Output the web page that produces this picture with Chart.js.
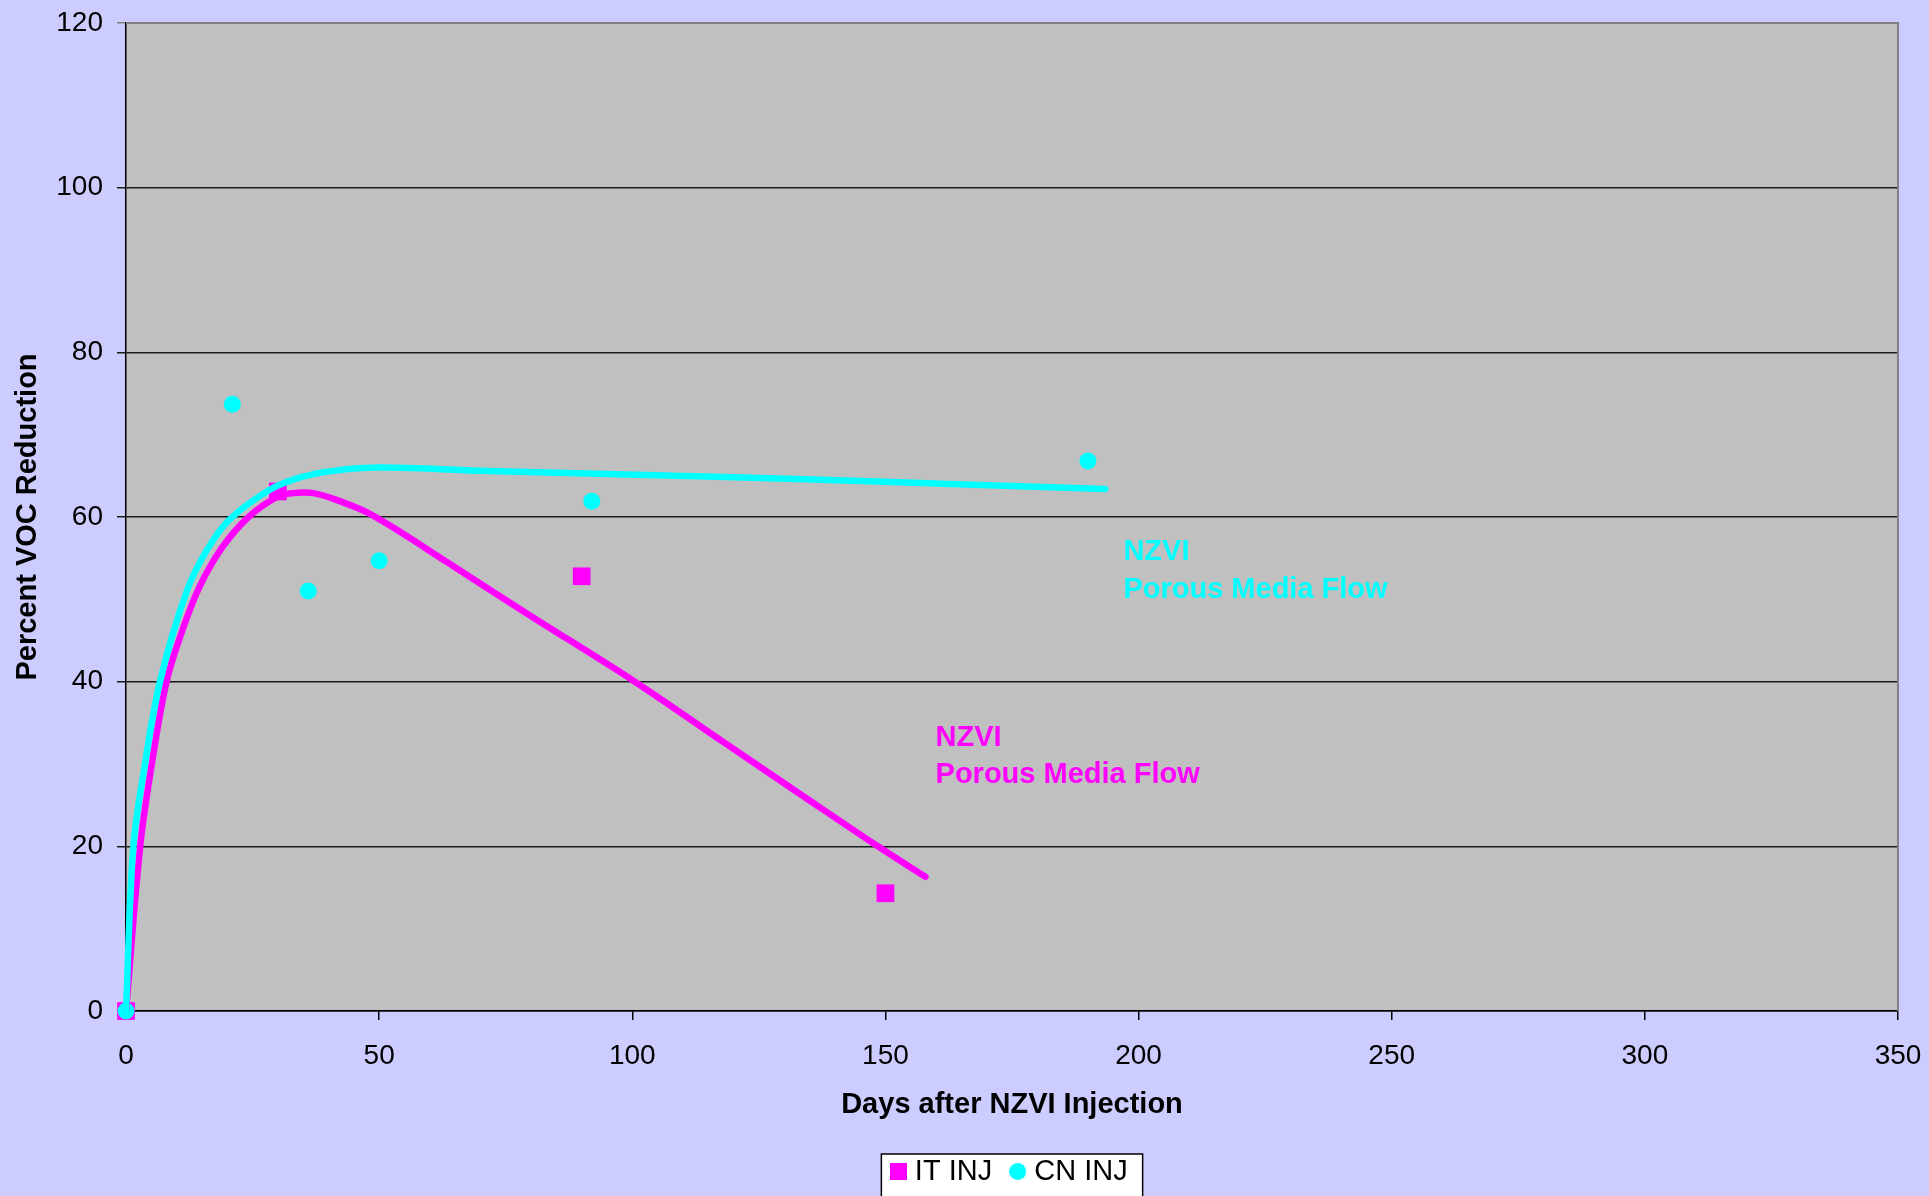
<!DOCTYPE html>
<html>
<head>
<meta charset="utf-8">
<script src="https://cdn.jsdelivr.net/npm/chart.js@4.4.0/dist/chart.umd.min.js"></script>
<style>
  html, body { margin: 0; padding: 0; background: #CCCCFF; }
  #wrap { width: 1929px; height: 1196px; }
</style>
</head>
<body>
<div id="wrap"><canvas id="vocChart" width="1929" height="1196"></canvas></div>
<script>
// measured points
const itDays = [0, 30, 90, 150];
const itReduction = [0, 63.1, 52.8, 14.3];
const cnDays = [0, 21, 36, 50, 92, 190];
const cnReduction = [0, 73.7, 51, 54.7, 61.9, 66.8];

// trend curves
const itFitDays = [0, 2.8, 5.1, 8, 11, 14.5, 19, 24.2, 30, 33, 37, 41, 47.5, 54.1, 63.7, 79.4, 100.5, 118.4, 134, 148.5, 157.9];
const itFitValues = [0, 20, 30, 40, 46, 51.5, 56.3, 60, 62.5, 62.9, 62.9, 62.2, 60.6, 58.2, 54.4, 48.2, 40, 32.5, 26, 20, 16.3];
const cnFitDays = [0, 1.45, 3.75, 6.7, 12, 16, 20.3, 28.4, 34.4, 40.9, 50, 71.5, 102.8, 134, 162.8, 193.4];
const cnFitValues = [0, 20, 30, 40, 51, 56, 59.6, 63.3, 64.8, 65.6, 66, 65.6, 65.1, 64.6, 64, 63.4];

const xTicks = [0, 50, 100, 150, 200, 250, 300, 350];
const yTicks = [0, 20, 40, 60, 80, 100, 120];

const seriesNames = ['IT INJ', 'CN INJ'];
const noteLines = ['NZVI', 'Porous Media Flow'];

const MAGENTA = '#FF00FF';
const CYAN = '#00FFFF';
const FONT = '"Liberation Sans", Arial, sans-serif';

function pts(xs, ys) {
    return xs.map((x, i) => ({ x: x, y: ys[i] }));
}

// small legend markers, both 17px like the original
function icon(kind, color) {
    const c = document.createElement('canvas');
    c.width = 17;
    c.height = 17;
    const g = c.getContext('2d');
    g.fillStyle = color;
    if (kind === 'rect') {
        g.fillRect(0, 0, 17, 17);
    } else {
        g.beginPath();
        g.arc(8.5, 8.5, 8.5, 0, Math.PI * 2);
        g.fill();
    }
    return c;
}
const legendIcons = [icon('rect', MAGENTA), icon('circle', CYAN)];

// grey plot area, border and white legend box
const backdrop = {
    id: 'backdrop',
    beforeDraw(chart) {
        const { ctx, chartArea: a } = chart;
        ctx.save();
        ctx.fillStyle = '#C0C0C0';
        ctx.fillRect(a.left, a.top, a.right - a.left, a.bottom - a.top);
        const boxes = chart.legend.legendHitBoxes;
        if (boxes && boxes.length) {
            const l = Math.min(...boxes.map(b => b.left)) - 15;
            const r = Math.max(...boxes.map(b => b.left + b.width)) + 15;
            const t = boxes[0].top - 3;
            const h = boxes[0].height + 14;
            ctx.fillStyle = '#FFFFFF';
            ctx.fillRect(l, t, r - l, h);
            ctx.strokeStyle = '#000000';
            ctx.lineWidth = 1.5;
            ctx.strokeRect(l, t, r - l, h);
        }
        ctx.restore();
    },
    beforeDatasetsDraw(chart) {
        const { ctx, chartArea: a } = chart;
        ctx.save();
        ctx.strokeStyle = '#808080';
        ctx.lineWidth = 2;
        ctx.beginPath();
        ctx.moveTo(a.left, a.top);
        ctx.lineTo(a.right, a.top);
        ctx.lineTo(a.right, a.bottom);
        ctx.stroke();
        ctx.restore();
    }
};

// the two "NZVI / Porous Media Flow" notes
const notes = {
    id: 'notes',
    afterDatasetsDraw(chart) {
        const { ctx, scales: { x, y } } = chart;
        const place = [
            { color: CYAN, day: 197, at: [54.8, 50.2] },
            { color: MAGENTA, day: 159.9, at: [32.2, 27.7] }
        ];
        ctx.save();
        ctx.font = 'bold 29px ' + FONT;
        ctx.textBaseline = 'alphabetic';
        ctx.textAlign = 'left';
        place.forEach(p => {
            ctx.fillStyle = p.color;
            noteLines.forEach((txt, i) => {
                ctx.fillText(txt, x.getPixelForValue(p.day), y.getPixelForValue(p.at[i]));
            });
        });
        ctx.restore();
    }
};

const ctx = document.getElementById('vocChart').getContext('2d');
const vocChart = new Chart(ctx, {
    type: 'scatter',
    data: {
        datasets: [
            {
                label: seriesNames[0],
                data: pts(itDays, itReduction),
                pointStyle: 'rect',
                pointRadius: 12.5,
                pointHoverRadius: 12.5,
                backgroundColor: MAGENTA,
                borderColor: MAGENTA,
                borderWidth: 0,
                clip: false,
                order: 3
            },
            {
                label: seriesNames[1],
                data: pts(cnDays, cnReduction),
                pointStyle: 'circle',
                pointRadius: 8.5,
                pointHoverRadius: 8.5,
                backgroundColor: CYAN,
                borderColor: CYAN,
                borderWidth: 0,
                clip: false,
                order: 2
            },
            {
                label: 'IT trend',
                data: pts(itFitDays, itFitValues),
                showLine: true,
                pointRadius: 0,
                borderColor: MAGENTA,
                borderWidth: 6.5,
                borderCapStyle: 'round',
                borderJoinStyle: 'round',
                tension: 0.35,
                clip: false,
                order: 1
            },
            {
                label: 'CN trend',
                data: pts(cnFitDays, cnFitValues),
                showLine: true,
                pointRadius: 0,
                borderColor: CYAN,
                borderWidth: 6.5,
                borderCapStyle: 'round',
                borderJoinStyle: 'round',
                tension: 0.35,
                clip: false,
                order: 0
            }
        ]
    },
    options: {
        responsive: false,
        animation: false,
        layout: { autoPadding: false, padding: { left: 0, right: 31, top: 23, bottom: 0 } },
        scales: {
            x: {
                type: 'linear',
                min: 0,
                max: 350,
                afterBuildTicks: s => { s.ticks = xTicks.map(v => ({ value: v })); },
                afterFit: s => {
                    s.height = 122.5;
                    s.paddingLeft = 0;
                    s.paddingRight = 0;
                },
                ticks: { color: '#000', font: { family: FONT, size: 28 }, padding: 19, maxRotation: 0 },
                grid: { drawOnChartArea: false, drawTicks: true, tickLength: 9, color: '#000', lineWidth: 1.5 },
                border: { color: '#000', width: 1.5 },
                title: {
                    display: true,
                    text: 'Days after NZVI Injection',
                    color: '#000',
                    font: { family: FONT, size: 29, weight: 'bold' },
                    padding: { top: 0, bottom: 11.5 }
                }
            },
            y: {
                type: 'linear',
                min: 0,
                max: 120,
                afterBuildTicks: s => { s.ticks = yTicks.map(v => ({ value: v })); },
                afterFit: s => {
                    s.width = 126;
                    s.paddingTop = 0;
                    s.paddingBottom = 0;
                },
                ticks: { color: '#000', font: { family: FONT, size: 28 }, padding: 14 },
                grid: {
                    drawTicks: true,
                    tickLength: 9,
                    lineWidth: 1.5,
                    color: c => (c.tick && c.tick.value === 120 ? '#808080' : '#1a1a1a')
                },
                border: { color: '#000', width: 1.5 },
                title: {
                    display: true,
                    text: 'Percent VOC Reduction',
                    color: '#000',
                    font: { family: FONT, size: 29, weight: 'bold' },
                    padding: { top: 11, bottom: 0 }
                }
            }
        },
        plugins: {
            legend: {
                position: 'bottom',
                fullSize: false,
                labels: {
                    usePointStyle: true,
                    boxWidth: 4,
                    boxHeight: 14,
                    color: '#000',
                    padding: 23.5,
                    font: { family: FONT, size: 29 },
                    generateLabels: chart => Chart.defaults.plugins.legend.labels.generateLabels(chart)
                        .filter(item => item.datasetIndex < 2)
                        .sort((a, b) => a.datasetIndex - b.datasetIndex)
                        .map(item => Object.assign(item, { pointStyle: legendIcons[item.datasetIndex] }))
                }
            },
            tooltip: { enabled: false }
        }
    },
    plugins: [backdrop, notes]
});
</script>
</body>
</html>
